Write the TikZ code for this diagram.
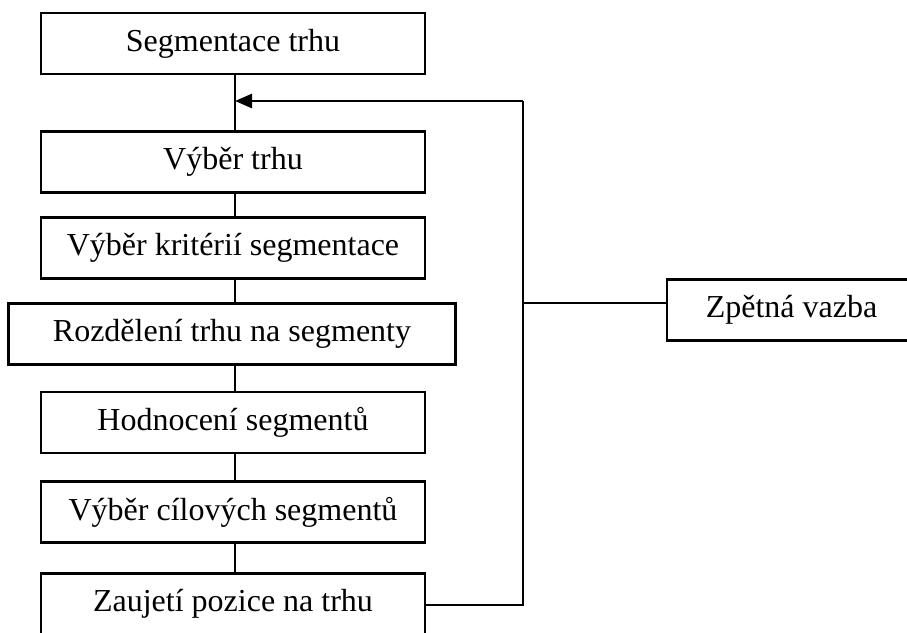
\documentclass[tikz,border=0pt]{standalone}
\usepackage{fontspec}
\setmainfont{Liberation Serif}
\usetikzlibrary{arrows.meta,calc}
\begin{document}
\begin{tikzpicture}[x=1pt,y=-1pt,
  stepbox/.style={draw,line width=2.6pt,minimum height=61pt,inner sep=0pt,
    font=\fontsize{32}{38}\selectfont},
  conn/.style={line width=2.6pt},
  arr/.style={line width=2.6pt,-{Triangle[length=17pt,width=14pt]}}]
\useasboundingbox (0,0) rectangle (907,632);
\node[stepbox,minimum width=384pt] (b1) at (233,43.5) {Segmentace trhu};
\node[stepbox,minimum width=384pt] (b2) at (233,162) {Výběr trhu};
\node[stepbox,minimum width=384pt] (b3) at (233,248) {Výběr kritérií segmentace};
\node[stepbox,minimum width=447pt] (b4) at (232,334) {Rozdělení trhu na segmenty};
\node[stepbox,minimum width=384pt] (b5) at (233,422.5) {Hodnocení segmentů};
\node[stepbox,minimum width=384pt] (b6) at (233,512) {Výběr cílových segmentů};
\node[stepbox,minimum width=384pt] (b7) at (233,604) {Zaujetí pozice na trhu};
\node[stepbox,minimum width=249pt] (fb) at (791.5,310) {Zpětná vazba};
\coordinate (m) at (235,101);
\coordinate (ft) at (523,101);
\coordinate (fbot) at (523,605);
\coordinate (j) at (523,303);
\draw[conn] (b1.south -| m) -- (b2.north -| m);
\draw[conn] (b2.south -| m) -- (b3.north -| m);
\draw[conn] (b3.south -| m) -- (b4.north -| m);
\draw[conn] (b4.south -| m) -- (b5.north -| m);
\draw[conn] (b5.south -| m) -- (b6.north -| m);
\draw[conn] (b6.south -| m) -- (b7.north -| m);
\draw[conn] (b7.east |- fbot) -- (fbot) -- (ft);
\draw[arr] (ft) -- (m);
\draw[conn] (j) -- (j -| fb.west);
\end{tikzpicture}
\end{document}
